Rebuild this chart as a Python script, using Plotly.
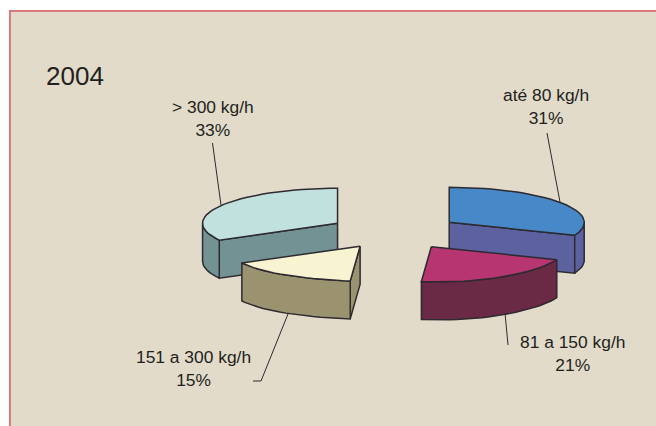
import math
import plotly.graph_objects as go

# Data
categories = ["até 80 kg/h", "81 a 150 kg/h", "151 a 300 kg/h", "> 300 kg/h"]
shares = [31, 21, 15, 33]

# Styles
top_colors = ["#4789c8", "#b73570", "#f8f3d0", "#c1e1df"]
side_colors = ["#5b629f", "#6a2944", "#9b9370", "#739293"]
edge_color = "#2d2a30"
text_color = "#231f20"
panel_color = "#e2dbc9"
border_color = "#d9797a"

# Projection of the tilted pie on to the page
CX, CY = 394.5, 232.0
RX, RY = 135.0, 35.0
DEPTH = 38.0
EXPLODE = 0.49
FRONT_NUDGE = 7.5


def project(frac, t):
    """Point at a fraction of the radius, at clockwise angle t from 12 o'clock."""
    dx = math.sin(t) * RX * frac
    dy = -math.cos(t) * RY * frac
    dx += FRONT_NUDGE * frac * max(0.0, -math.cos(t)) ** 8
    return dx, dy


def arc(a0, a1):
    n = max(2, int(abs(a1 - a0) / math.radians(3)))
    return [a0 + (a1 - a0) * i / n for i in range(n + 1)]


fig = go.Figure()


def poly(pts, fill):
    fig.add_trace(go.Scatter(
        x=[p[0] for p in pts] + [pts[0][0]],
        y=[p[1] for p in pts] + [pts[0][1]],
        mode="lines", fill="toself", fillcolor=fill,
        line=dict(color=edge_color, width=1.5),
        hoverinfo="skip", showlegend=False,
    ))


def down(pts):
    return [(x, y + DEPTH) for x, y in pts]


total = sum(shares)
draw = {}
start = 0.0
for i, v in enumerate(shares):
    end = start + 2 * math.pi * v / total
    draw[i] = (start, end)
    start = end

# Painter order: back slices first, then the two front slices.
for i in [3, 0, 2, 1]:
    a0, a1 = draw[i]
    mid = (a0 + a1) / 2
    ex, ey = project(EXPLODE, mid)
    if i in (1, 2):
        ex += 2.0
    ax, ay = CX + ex, CY + ey

    def rim(t):
        dx, dy = project(1.0, t)
        return ax + dx, ay + dy

    apex = (ax, ay)
    # Radial walls that face the viewer
    if math.sin(a0) < -1e-6:
        e = [apex, rim(a0)]
        poly(e + down(e)[::-1], side_colors[i])
    if math.cos(a1 + math.pi / 2) < -1e-6:
        e = [apex, rim(a1)]
        poly(e + down(e)[::-1], side_colors[i])
    # Outer wall where the rim faces the viewer
    lo, hi = max(a0, math.pi / 2), min(a1, 3 * math.pi / 2)
    if hi > lo:
        e = [rim(t) for t in arc(lo, hi)]
        poly(e + down(e)[::-1], side_colors[i])
    # Top face
    poly([apex] + [rim(t) for t in arc(a0, a1)], top_colors[i])

# Leader lines: one per category
leaders = [
    ([547, 560], [133, 202]),
    ([505, 508], [313, 345]),
    ([288, 261, 253], [314, 381, 381]),
    ([212.5, 221], [143, 205]),
]
for lx, ly in leaders:
    fig.add_trace(go.Scatter(x=lx, y=ly, mode="lines",
                             line=dict(color=edge_color, width=1),
                             hoverinfo="skip", showlegend=False))

label_pos = [(546, 106), (572, 353), (193, 368.5), (213, 118)]
annotations = [
    dict(x=p[0], y=p[1], xref="x", yref="y", showarrow=False,
         text=f"{c}<br>{s}%", align="center",
         font=dict(family="Liberation Sans", size=17.4, color=text_color))
    for c, s, p in zip(categories, shares, label_pos)
]
annotations.append(dict(x=44, y=76, xref="x", yref="y", showarrow=False,
                        xanchor="left", text="2004",
                        font=dict(family="Liberation Sans", size=26, color=text_color)))

fig.update_layout(
    width=656, height=426,
    margin=dict(l=0, r=0, t=0, b=0),
    paper_bgcolor="white", plot_bgcolor="white",
    xaxis=dict(range=[0, 656], visible=False, fixedrange=True),
    yaxis=dict(range=[426, 0], visible=False, fixedrange=True),
    shapes=[dict(type="rect", xref="x", yref="y", x0=10, y0=11, x1=720, y1=490,
                 fillcolor=panel_color, line=dict(color=border_color, width=2),
                 layer="below")],
    annotations=annotations,
)

fig.write_html("out.html", config={"displayModeBar": False},
               post_script="document.body.style.margin='0';document.body.style.overflow='hidden';")
